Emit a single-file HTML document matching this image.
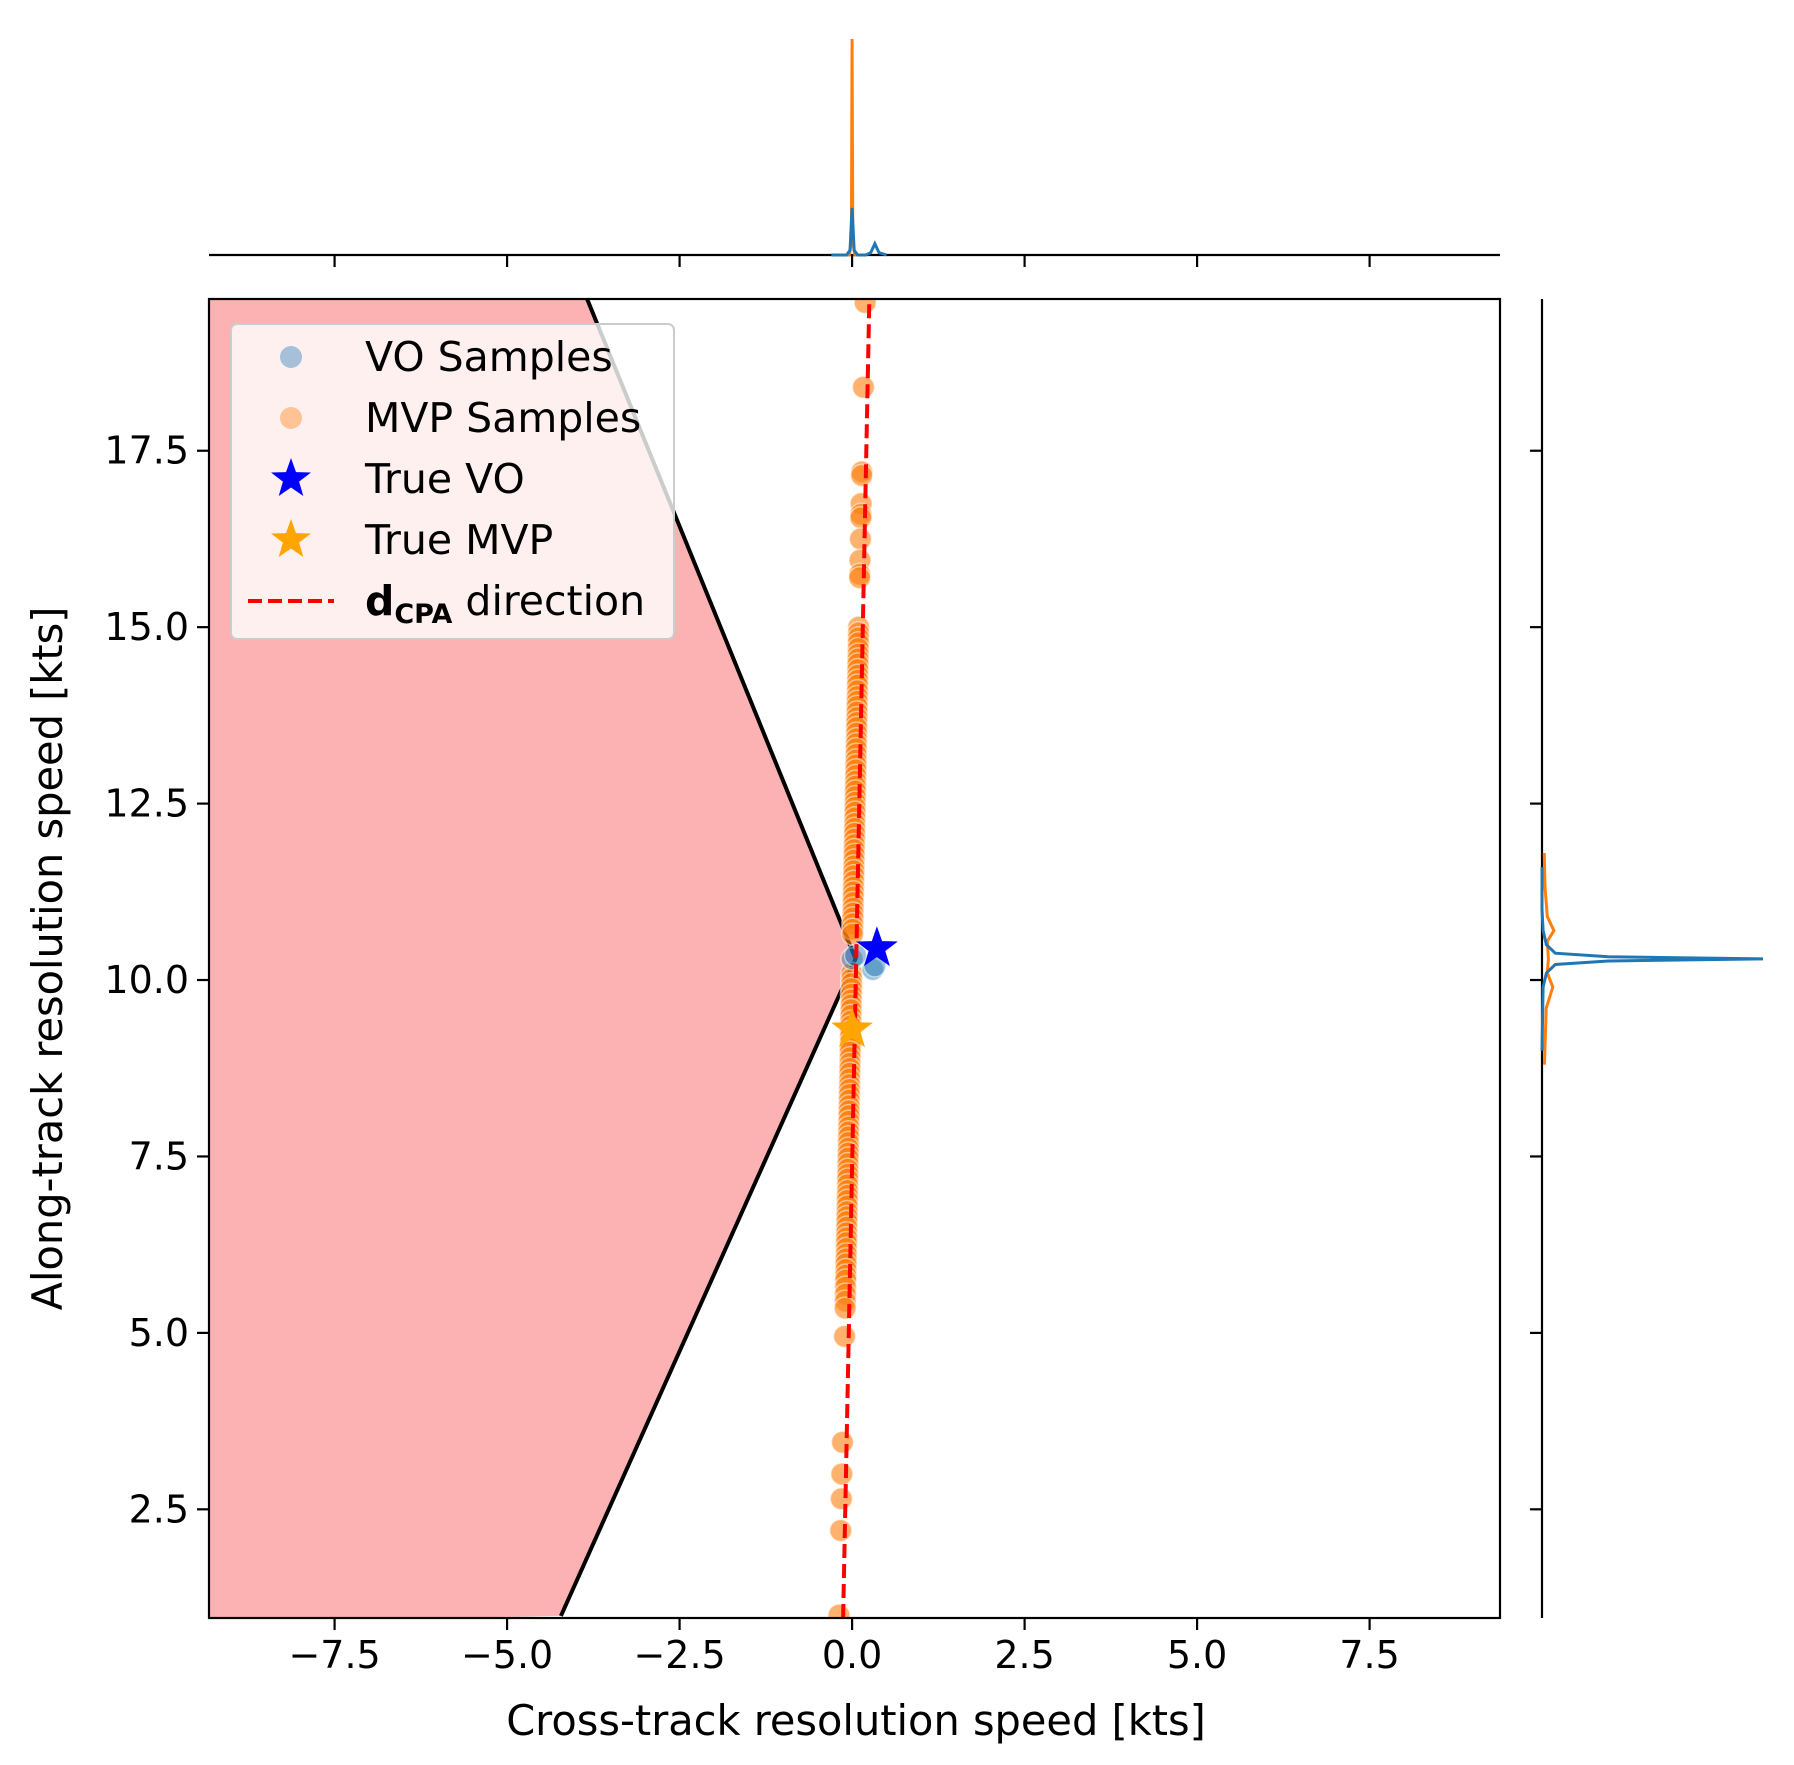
<!DOCTYPE html>
<html><head><meta charset="utf-8">
<style>
html,body{margin:0;padding:0;background:#fff;}
svg{display:block;font-family:"DejaVu Sans","Liberation Sans",sans-serif;}
</style></head>
<body>
<svg id="chart" width="1794" height="1765" viewBox="0 0 1794 1765"></svg>
<script>
const xTicks = [-7.5, -5.0, -2.5, 0.0, 2.5, 5.0, 7.5];
const yTicks = [2.5, 5.0, 7.5, 10.0, 12.5, 15.0, 17.5];
const regionPoly = [[-9.4, 19.7], [-3.84, 19.65], [0.05, 10.3], [-4.22, 0.99], [-9.4, 0.9]];
const dcpaLine = [[-0.13, 0.96], [0.25, 19.65]];
const mvpY = [19.6, 18.4, 17.2, 17.15, 16.75, 16.6, 16.55, 16.25, 15.95, 15.75, 15.7, 15.0, 14.92, 14.85, 14.78, 14.7, 14.62, 14.55, 14.48, 14.4, 14.32, 14.25, 14.18, 14.1, 14.02, 13.95, 13.88, 13.8, 13.72, 13.65, 13.58, 13.5, 13.42, 13.35, 13.28, 13.2, 13.12, 13.05, 12.98, 12.9, 12.82, 12.75, 12.68, 12.6, 12.52, 12.45, 12.38, 12.3, 12.22, 12.15, 12.08, 12.0, 11.92, 11.85, 11.78, 11.7, 11.62, 11.55, 11.48, 11.4, 11.32, 11.25, 11.18, 11.1, 11.02, 10.95, 10.88, 10.8, 10.72, 10.65, 10.1, 10.02, 9.95, 9.88, 9.8, 9.72, 9.65, 9.58, 9.5, 9.42, 9.35, 9.28, 9.2, 9.12, 9.05, 8.98, 8.9, 8.82, 8.75, 8.68, 8.6, 8.52, 8.45, 8.38, 8.3, 8.22, 8.15, 8.08, 8.0, 7.92, 7.85, 7.78, 7.7, 7.62, 7.55, 7.48, 7.4, 7.32, 7.25, 7.18, 7.1, 7.02, 6.95, 6.88, 6.8, 6.72, 6.65, 6.58, 6.5, 6.42, 6.35, 6.28, 6.2, 6.12, 6.05, 5.98, 5.9, 5.82, 5.75, 5.65, 5.55, 5.45, 5.35, 4.95, 3.45, 3.0, 2.65, 2.2, 1.0];
const voX = [0.0, 0.3, 0.33, 0.05];
const voY = [10.3, 10.15, 10.2, 10.35];
const trueVO = [0.36, 10.45];
const trueMVP = [0.0, 9.3];
const topKdeX = [-0.3, -0.08, -0.03, 0.0, 0.03, 0.08, 0.2, 0.27, 0.33, 0.39, 0.5];
const topKdeBlue = [0, 0, 0.1, 1.0, 0.1, 0, 0, 0.05, 0.24, 0.05, 0];
const topKdeOrangeX = [-0.2, -0.04, -0.01, 0.0, 0.01, 0.04, 0.2];
const topKdeOrange = [0, 0, 0.3, 4.55, 0.3, 0, 0];
const rightKdeY = [9.0, 9.9, 10.1, 10.22, 10.27, 10.3, 10.33, 10.38, 10.5, 10.7, 11.0, 11.6];
const rightKdeBlue = [0, 0.005, 0.02, 0.06, 0.3, 1.0, 0.3, 0.06, 0.02, 0.005, 0, 0];
const rightKdeOrangeY = [8.8, 9.6, 9.9, 10.1, 10.3, 10.55, 10.7, 10.9, 11.3, 11.8];
const rightKdeOrange = [0.002, 0.01, 0.04, 0.015, 0.02, 0.015, 0.045, 0.015, 0.005, 0.001];

const NS = "http://www.w3.org/2000/svg";
const svg = document.getElementById('chart');
const L = 209, R = 1500, T = 299, B = 1618;
const XMIN = -9.32, XMAX = 9.39, YMIN = 0.96, YMAX = 19.65;
const sx = v => L + (v - XMIN) / (XMAX - XMIN) * (R - L);
const sy = v => B - (v - YMIN) / (YMAX - YMIN) * (B - T);
const TOPBASE = 255, TOPPEAK = 39;
const topS = d => TOPBASE - d / 4.55 * (TOPBASE - TOPPEAK);
const RBASE = 1542, RPEAK = 1763;
const rS = d => RBASE + d * (RPEAK - RBASE);

function el(tag, attrs, parent) {
  const e = document.createElementNS(NS, tag);
  for (const k in attrs) e.setAttribute(k, attrs[k]);
  (parent || svg).appendChild(e);
  return e;
}
const defs = el('defs', {});
const cp = el('clipPath', {id: 'clipMain'}, defs);
el('rect', {x: L, y: T, width: R - L, height: B - T}, cp);
const main = el('g', {'clip-path': 'url(#clipMain)'});



const poly = el('polygon', {points: regionPoly.map(p => sx(p[0]) + ',' + sy(p[1])).join(' '), fill: '#fcb2b2', stroke: 'none'}, main);


const edge = el('polyline', {points: regionPoly.slice(1, 4).map(p => sx(p[0]) + ',' + sy(p[1])).join(' '), fill: 'none', stroke: '#000', 'stroke-width': 4}, main);



const lineX = y => dcpaLine[0][0] + (y - dcpaLine[0][1]) / (dcpaLine[1][1] - dcpaLine[0][1]) * (dcpaLine[1][0] - dcpaLine[0][0]) - 0.06;
mvpY.forEach(y => {
  const c = el('circle', {cx: sx(lineX(y)), cy: sy(y), r: 11, fill: 'rgba(255,127,14,0.6)', stroke: 'rgba(255,255,255,0.5)', 'stroke-width': 1.5}, main);
  
  
});
voX.forEach((x, i) => {
  const c = el('circle', {cx: sx(x), cy: sy(voY[i]), r: 11, fill: 'rgba(31,119,180,0.45)', stroke: 'rgba(255,255,255,0.5)', 'stroke-width': 1.5}, main);
  
  
});
const dl = el('line', {x1: sx(dcpaLine[0][0]), y1: sy(dcpaLine[0][1]), x2: sx(dcpaLine[1][0]), y2: sy(dcpaLine[1][1]), stroke: '#ff0000', 'stroke-width': 4, 'stroke-dasharray': '14,6'}, main);



function star(cx, cy, r, color) {
  const pts = [];
  for (let i = 0; i < 10; i++) {
    const a = -Math.PI / 2 + i * Math.PI / 5;
    const rr = i % 2 ? r * 0.4 : r;
    pts.push((cx + rr * Math.cos(a)).toFixed(1) + ',' + (cy + rr * Math.sin(a)).toFixed(1));
  }
  return el('polygon', {points: pts.join(' '), fill: color}, main);
}
const s1 = star(sx(trueVO[0]), sy(trueVO[1]), 22, '#0000ff');


const s2 = star(sx(trueMVP[0]), sy(trueMVP[1]), 22, '#ffa500');



const frame = el('rect', {x: L, y: T, width: R - L, height: B - T, fill: 'none', stroke: '#000', 'stroke-width': 2.2});



function txt(x, y, s, anchor, size, name) {
  const t = el('text', {x: x, y: y, 'text-anchor': anchor, 'font-size': size, fill: '#000'});
  t.textContent = s;
  
  
  return t;
}
const fmt = v => (v < 0 ? '\u2212' : '') + Math.abs(v).toFixed(1);
xTicks.forEach(v => {
  const x = sx(v);
  const t1 = el('line', {x1: x, y1: B, x2: x, y2: B + 12, stroke: '#000', 'stroke-width': 2.2});
  
  
  txt(x, B + 50, fmt(v), 'middle', 38, 'x-tick-label');
  const t2 = el('line', {x1: x, y1: TOPBASE, x2: x, y2: TOPBASE + 12, stroke: '#000', 'stroke-width': 2.2});
  
  
});
yTicks.forEach(v => {
  const y = sy(v);
  const t1 = el('line', {x1: L, y1: y, x2: L - 12, y2: y, stroke: '#000', 'stroke-width': 2.2});
  
  
  txt(L - 20, y + 13, fmt(v), 'end', 38, 'y-tick-label');
  const t2 = el('line', {x1: RBASE, y1: y, x2: RBASE - 12, y2: y, stroke: '#000', 'stroke-width': 2.2});
  
  
});
txt(856, 1735, 'Cross-track resolution speed [kts]', 'middle', 41.5, 'x-axis-title');
const yl = txt(0, 0, 'Along-track resolution speed [kts]', 'middle', 41.5, 'y-axis-title');
yl.setAttribute('transform', 'translate(62,' + ((T + B) / 2) + ') rotate(-90)');

const ta = el('line', {x1: L, y1: TOPBASE, x2: R, y2: TOPBASE, stroke: '#000', 'stroke-width': 2.2});


const to = el('polyline', {points: topKdeOrangeX.map((x, i) => sx(x) + ',' + topS(topKdeOrange[i])).join(' '), fill: 'none', stroke: '#ff7f0e', 'stroke-width': 3}, svg);


const tb = el('polyline', {points: topKdeX.map((x, i) => sx(x) + ',' + (TOPBASE - topKdeBlue[i] * 47)).join(' '), fill: 'none', stroke: '#1f77b4', 'stroke-width': 3}, svg);



const ra = el('line', {x1: RBASE, y1: T, x2: RBASE, y2: B, stroke: '#000', 'stroke-width': 2.2});


const ro = el('polyline', {points: rightKdeOrangeY.map((y, i) => (RBASE + 2 + rightKdeOrange[i] * 220) + ',' + sy(y)).join(' '), fill: 'none', stroke: '#ff7f0e', 'stroke-width': 3}, svg);


const rb = el('polyline', {points: rightKdeY.map((y, i) => rS(rightKdeBlue[i]) + ',' + sy(y)).join(' '), fill: 'none', stroke: '#1f77b4', 'stroke-width': 3}, svg);



const lg = el('g', {});


const lb = el('rect', {x: 231, y: 324, width: 443, height: 315, rx: 6, fill: 'rgba(255,255,255,0.8)', stroke: '#ccc', 'stroke-width': 2}, lg);


const rowY = [357, 418, 479, 540, 601];
const labels = ['VO Samples', 'MVP Samples', 'True VO', 'True MVP'];
const c1 = el('circle', {cx: 291, cy: rowY[0], r: 11, fill: 'rgba(31,119,180,0.4)'}, lg);


const c2 = el('circle', {cx: 291, cy: rowY[1], r: 11, fill: 'rgba(255,127,14,0.4)'}, lg);


function lstar(cx, cy, color, name) {
  const pts = [];
  for (let i = 0; i < 10; i++) {
    const a = -Math.PI / 2 + i * Math.PI / 5;
    const rr = i % 2 ? 8.5 : 21;
    pts.push((cx + rr * Math.cos(a)).toFixed(1) + ',' + (cy + rr * Math.sin(a)).toFixed(1));
  }
  const p = el('polygon', {points: pts.join(' '), fill: color}, lg);
  
  
}
lstar(291, rowY[2], '#0000ff', 'legend-true-vo-marker');
lstar(291, rowY[3], '#ffa500', 'legend-true-mvp-marker');
const ld = el('line', {x1: 248, y1: rowY[4], x2: 334, y2: rowY[4], stroke: '#ff0000', 'stroke-width': 4, 'stroke-dasharray': '14,6'}, lg);


labels.forEach((s, i) => {
  const t = el('text', {x: 365, y: rowY[i] + 14, 'font-size': 41}, lg);
  t.textContent = s;
  
  
});
const t5 = el('text', {x: 365, y: rowY[4] + 14, 'font-size': 41}, lg);


t5.innerHTML = '<tspan font-weight="bold">d</tspan><tspan font-weight="bold" font-size="27" dy="8">CPA</tspan><tspan dy="-8"> direction</tspan>';
</script>
</body></html>
